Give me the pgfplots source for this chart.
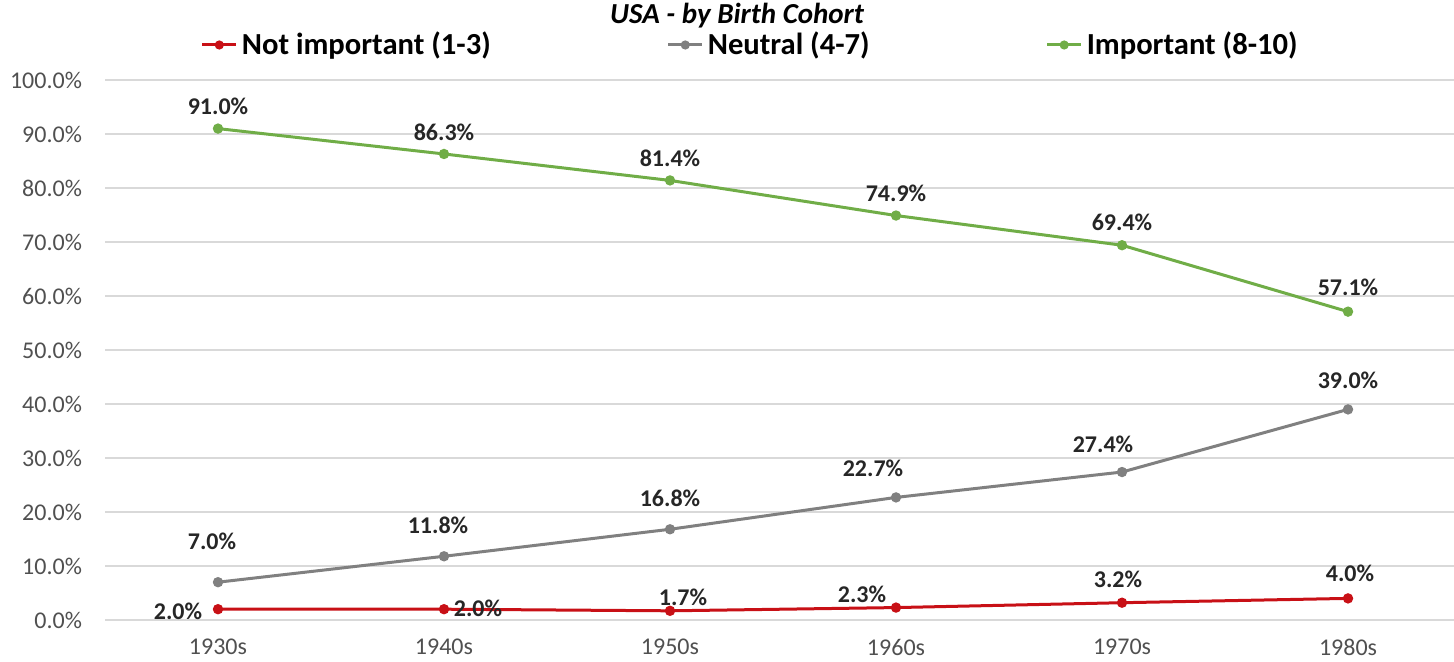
\documentclass[border=0pt]{standalone}
\usepackage{pgfplots}
\pgfplotsset{compat=1.18}
\usepackage{pgfplotstable}
\usepackage{fontspec}
\setmainfont{Carlito}

\definecolor{cRed}{RGB}{200,16,22}
\definecolor{cGray}{RGB}{128,128,128}
\definecolor{cGreen}{RGB}{112,173,71}
\definecolor{cGrid}{RGB}{217,217,217}
\definecolor{cTick}{RGB}{80,80,80}

% x y dx dy  (dx, dy: label offsets in pt)
\pgfplotstableread{
x y dx dy
0 2.0 -20 -1
1 2.0 17 0.5
2 1.7 6.5 6.5
3 2.3 -17 6.5
4 3.2 -2 11.5
5 4.0 1 12.5
}\notimp
\pgfplotstableread{
x y dx dy
0 7.0 -3 20.5
1 11.8 -3 15.5
2 16.8 0 15.5
3 22.7 -11.5 14.5
4 27.4 -9.5 14
5 39.0 0 14.5
}\neutral
\pgfplotstableread{
x y dx dy
0 91.0 0 11
1 86.3 0 11
2 81.4 0 11
3 74.9 0 11
4 69.4 0 11.5
5 57.1 0 12
}\important

\pgfplotsset{
  lbl/.style={
    point meta=y,
    visualization depends on={\thisrow{dx}\as\dx},
    visualization depends on={\thisrow{dy}\as\dy},
    nodes near coords={\pgfmathprintnumber[fixed,fixed zerofill,precision=1]{\pgfplotspointmeta}\%},
    nodes near coords style={anchor=center, xshift=\dx pt, yshift=\dy pt,
      font=\bfseries\fontsize{12}{14}\selectfont, text=black!85},
  },
}

\begin{document}
\begin{tikzpicture}
\begin{axis}[
  at={(0,0)}, anchor=south west,
  scale only axis,
  width=674.5pt, height=270pt,
  xmin=-0.5, xmax=5.469,
  ymin=0, ymax=100,
  axis line style={draw=none},
  major tick length=0pt,
  xtick={0,...,5},
  xticklabels={1930s,1940s,1950s,1960s,1970s,1980s},
  ytick={0,10,...,100},
  ymajorgrids,
  grid style={cGrid, line width=0.6pt},
  /pgf/number format/assume math mode=true,
  yticklabel={\pgfmathprintnumber[fixed,fixed zerofill,precision=1]{\tick}\%},
  tick label style={font=\fontsize{12}{14}\selectfont, text=cTick},
  yticklabel style={xshift=-8pt},
  xticklabel style={yshift=-6pt},
  title={\bfseries\itshape USA - by Birth Cohort},
  title style={at={(0.4685,1)}, anchor=center, yshift=26pt, font=\fontsize{14.5}{16}\selectfont},
  legend columns=3,
  legend style={at={(0.479,1)}, anchor=center, yshift=17.5pt, draw=none, fill=none,
    font=\bfseries\fontsize{15.3}{17}\selectfont,
    /tikz/every even column/.append style={column sep=86pt}},
  clip=false,
]
\addlegendimage{cRed, line width=1.5pt, mark=*, mark size=1.5pt}
\addlegendentry{Not important (1-3)}
\addlegendimage{cGray, line width=1.5pt, mark=*, mark size=1.5pt}
\addlegendentry{Neutral (4-7)}
\addlegendimage{cGreen, line width=1.5pt, mark=*, mark size=1.5pt}
\addlegendentry{Important (8-10)}
\addplot[cRed, line width=1.5pt, mark=*, mark size=1.8pt, lbl, forget plot] table[x=x,y=y] {\notimp};
\addplot[cGray, line width=1.5pt, mark=*, mark size=1.8pt, lbl, forget plot] table[x=x,y=y] {\neutral};
\addplot[cGreen, line width=1.5pt, mark=*, mark size=1.8pt, lbl, forget plot] table[x=x,y=y] {\important};
\end{axis}
\pgfresetboundingbox
\path[use as bounding box] (-52.5pt,-21pt) rectangle (674.5pt,310pt);
\end{tikzpicture}
\end{document}
